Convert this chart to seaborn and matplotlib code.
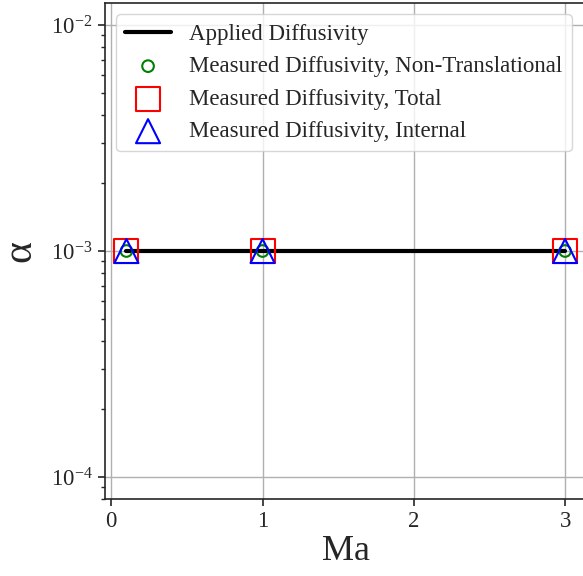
import matplotlib
matplotlib.use("Agg")
import matplotlib.pyplot as plt
import seaborn as sns
import numpy as np
import pandas as pd

# Data
ma_values = [0.1, 1, 3]
applied = [1e-3, 1e-3, 1e-3]
measured_nontrans = [1e-3, 1e-3, 1e-3]
measured_total = [1e-3, 1e-3, 1e-3]
measured_internal = [1e-3, 1e-3, 1e-3]
x_ticks = [0, 1, 2, 3]

sns.set_theme(style="ticks")
plt.rcParams['font.family'] = ['Liberation Serif', 'DejaVu Serif']
plt.rcParams['mathtext.fontset'] = 'stix'

fig = plt.figure(figsize=(5.83, 5.76), dpi=100)
W, H = 583, 576
left, right, top, bottom = 104.5, 587, 3, 499
ax = fig.add_axes([left / W, 1 - bottom / H, (right - left) / W, (bottom - top) / H])

df = pd.DataFrame({"Ma": ma_values, "applied": applied,
                   "nt": measured_nontrans, "tot": measured_total,
                   "int": measured_internal})

sns.lineplot(data=df, x="Ma", y="applied", ax=ax, color="black", lw=3,
             label="Applied Diffusivity", zorder=2)
sns.scatterplot(data=df, x="Ma", y="nt", ax=ax, marker="o", s=70,
                facecolor="none", edgecolor="green", linewidth=1.5,
                label="Measured Diffusivity, Non-Translational", zorder=3)
sns.scatterplot(data=df, x="Ma", y="tot", ax=ax, marker="s", s=300,
                facecolor="none", edgecolor="red", linewidth=1.5,
                label="Measured Diffusivity, Total", zorder=3)
sns.scatterplot(data=df, x="Ma", y="int", ax=ax, marker="^", s=300,
                facecolor="none", edgecolor="blue", linewidth=1.5,
                label="Measured Diffusivity, Internal", zorder=4)

ax.set_yscale("log")
ax.set_ylim(8e-5, 1.25e-2)
ax.set_xlim(-0.045, 3.145)
ax.set_xticks(x_ticks)
ax.grid(True, which="major", color="#b0b0b0", lw=1)
ax.set_axisbelow(True)
ax.tick_params(which="major", labelsize=16.5, length=5, width=1.2)
ax.tick_params(which="minor", length=3, width=1)
ax.set_xlabel("Ma", fontsize=26, labelpad=2)
ax.set_ylabel("α", fontsize=30, labelpad=8)
for s in ax.spines.values():
    s.set_linewidth(1.2)

ax.legend(loc="upper left", fontsize=16.5)

fig.savefig("out.png", dpi=100)
